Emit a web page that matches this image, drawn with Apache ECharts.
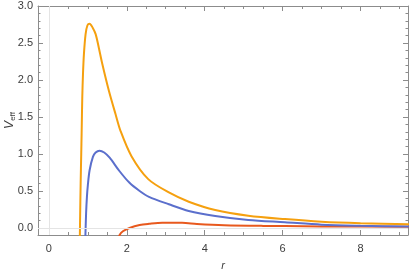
<!DOCTYPE html>
<html>
<head>
<meta charset="utf-8">
<script src="https://cdn.jsdelivr.net/npm/echarts@6/dist/echarts.min.js"></script>
<style>
  html, body { margin: 0; padding: 0; background: #fff; }
  #chart { width: 410px; height: 273px; }
</style>
</head>
<body>
<div id="chart"></div>
<script>
// curve samples (r, V_eff)
var orangeR = [0.79, 0.80, 0.815, 0.83, 0.84, 0.857, 0.875, 0.899, 0.942, 0.99, 1.045, 1.12, 1.2, 1.28, 1.37, 1.54, 1.71, 1.84, 2.12, 2.55, 3.08, 3.59, 4.27, 5.12, 6.06, 7.0, 8.0, 9.3];
var orangeV = [-0.3, 0.1, 0.6, 1.0, 1.27, 1.77, 2.08, 2.35, 2.62, 2.74, 2.76, 2.71, 2.62, 2.44, 2.22, 1.855, 1.54, 1.31, 0.97, 0.66, 0.48, 0.355, 0.243, 0.166, 0.12, 0.085, 0.065, 0.05];

var blueR = [0.925, 0.94, 0.955, 0.976, 1.0, 1.045, 1.13, 1.2, 1.30, 1.42, 1.56, 1.81, 2.07, 2.33, 2.57, 3.08, 3.59, 4.27, 5.12, 6.06, 7.0, 8.0, 9.3];
var blueV = [-0.3, -0.05, 0.2, 0.42, 0.58, 0.78, 0.96, 1.02, 1.045, 1.02, 0.95, 0.77, 0.61, 0.5, 0.42, 0.32, 0.23, 0.162, 0.108, 0.077, 0.045, 0.03, 0.018];

var redR = [1.79, 1.815, 1.9, 2.07, 2.33, 2.57, 2.91, 3.42, 3.8, 4.5, 5.5, 6.06, 7.0, 9.3];
var redV = [-0.15, -0.095, -0.045, 0.0, 0.04, 0.056, 0.07, 0.07, 0.055, 0.038, 0.028, 0.026, 0.021, 0.017];

// plot range and ticks
var xMin = -0.28, xMax = 9.22;
var yMin = -0.095, yMax = 3.0;
var xLabelMax = 8, xLabelStep = 2, xMinorMax = 9, xMinorStep = 0.5;
var yLabelMax = 3, yLabelStep = 0.5;

function zip(a, b) {
    return a.map(function (v, i) { return [v, b[i]]; });
}

var chart = echarts.init(document.getElementById('chart'));

var frameColor = '#8c8c8c';
var labelColor = '#3c3c3c';
var font = 'Liberation Sans';

// main frame: grid 0; tick grids are sized so their data lines up with grid 0
var W = 410, H = 273;
var fL = 38, fR = 2, fT = 6, fB = 38;
var pxX = (W - fL - fR) / (xMax - xMin);
var pxY = (H - fT - fB) / (yMax - yMin);
var x0 = fL + (0 - xMin) * pxX;

function frameAxis(pos, min, max) {
    return {
        type: 'value', position: pos, min: min, max: max, gridIndex: 0,
        splitLine: { show: false },
        axisLine: { show: true, onZero: false, lineStyle: { color: frameColor, width: 1 } },
        axisTick: { show: false },
        axisLabel: { show: false }
    };
}

function tickAxis(grid, pos, min, max, step, len, labels, minor) {
    return {
        type: 'value', position: pos, min: min, max: max, interval: step, gridIndex: grid,
        splitLine: { show: false },
        axisLine: { show: false, onZero: false },
        axisTick: { show: true, inside: true, length: len, lineStyle: { color: frameColor, width: 1 } },
        minorTick: minor ? { show: true, splitNumber: 5, length: 2.5, lineStyle: { color: frameColor, width: 1 } } : { show: false },
        axisLabel: labels ? {
            show: true, color: labelColor, fontSize: 11, fontFamily: font,
            margin: labels.margin, formatter: labels.formatter
        } : { show: false }
    };
}

function hiddenAxis(grid) {
    return { type: 'value', gridIndex: grid, show: false, min: 0, max: 1 };
}

var xMain = frameAxis('bottom', xMin, xMax);
xMain.name = 'r';
xMain.nameLocation = 'middle';
xMain.nameGap = 25;
xMain.nameTextStyle = { fontStyle: 'italic', fontSize: 11, color: labelColor, fontFamily: font };

var yMain = frameAxis('left', yMin, yMax);
yMain.name = '{v|V}{s|eff}';
yMain.nameLocation = 'middle';
yMain.nameGap = 21;
yMain.nameRotate = 90;
yMain.nameTextStyle = {
    rich: {
        v: { fontSize: 12, fontStyle: 'italic', color: labelColor, fontFamily: font },
        s: { fontSize: 8, color: labelColor, fontFamily: font, padding: [6, 0, 0, 0] }
    }
};

var xLab = { margin: 8, formatter: function (v) { return String(v); } };
var yLab = { margin: 5, formatter: function (v) { return v.toFixed(1); } };

option = {
    animation: false,
    grid: [
        { left: fL, right: fR, top: fT, bottom: fB, outerBoundsMode: 'none', containLabel: false },
        // x major ticks + labels: 0..8
        { left: x0, width: xLabelMax * pxX, top: fT, bottom: fB, outerBoundsMode: 'none' },
        // x minor ticks: 0..9
        { left: x0, width: xMinorMax * pxX, top: fT, bottom: fB, outerBoundsMode: 'none' },
        // y ticks + labels: 0..3
        { left: fL, right: fR, top: fT, height: yLabelMax * pxY, outerBoundsMode: 'none' }
    ],
    xAxis: [
        xMain,
        frameAxis('top', xMin, xMax),
        tickAxis(1, 'bottom', 0, xLabelMax, xLabelStep, 5, xLab, false),
        tickAxis(1, 'top', 0, xLabelMax, xLabelStep, 5, null, false),
        tickAxis(2, 'bottom', 0, xMinorMax, xMinorStep, 3, null, false),
        tickAxis(2, 'top', 0, xMinorMax, xMinorStep, 3, null, false),
        hiddenAxis(3)
    ],
    yAxis: [
        yMain,
        frameAxis('right', yMin, yMax),
        hiddenAxis(1),
        hiddenAxis(2),
        tickAxis(3, 'left', 0, yLabelMax, yLabelStep, 5, yLab, true),
        tickAxis(3, 'right', 0, yLabelMax, yLabelStep, 5, null, true)
    ],
    series: [
        {
            name: 'zero lines', type: 'line', data: [], silent: true,
            xAxisIndex: 0, yAxisIndex: 0,
            markLine: {
                symbol: 'none', silent: true, label: { show: false },
                lineStyle: { color: '#e4e4e4', width: 1, type: 'solid' },
                data: [{ xAxis: 0 }, { yAxis: 0 }]
            }
        },
        {
            name: 'c3', type: 'line', smooth: 0.3, showSymbol: false,
            xAxisIndex: 0, yAxisIndex: 0,
            data: zip(redR, redV),
            lineStyle: { color: '#e8591e', width: 2 }
        },
        {
            name: 'c2', type: 'line', smooth: 0.3, showSymbol: false,
            xAxisIndex: 0, yAxisIndex: 0,
            data: zip(blueR, blueV),
            lineStyle: { color: '#5b6fcc', width: 2 }
        },
        {
            name: 'c1', type: 'line', smooth: 0.3, showSymbol: false,
            xAxisIndex: 0, yAxisIndex: 0,
            data: zip(orangeR, orangeV),
            lineStyle: { color: '#f5a00f', width: 2 }
        }
    ]
};

chart.setOption(option);
</script>
</body>
</html>
